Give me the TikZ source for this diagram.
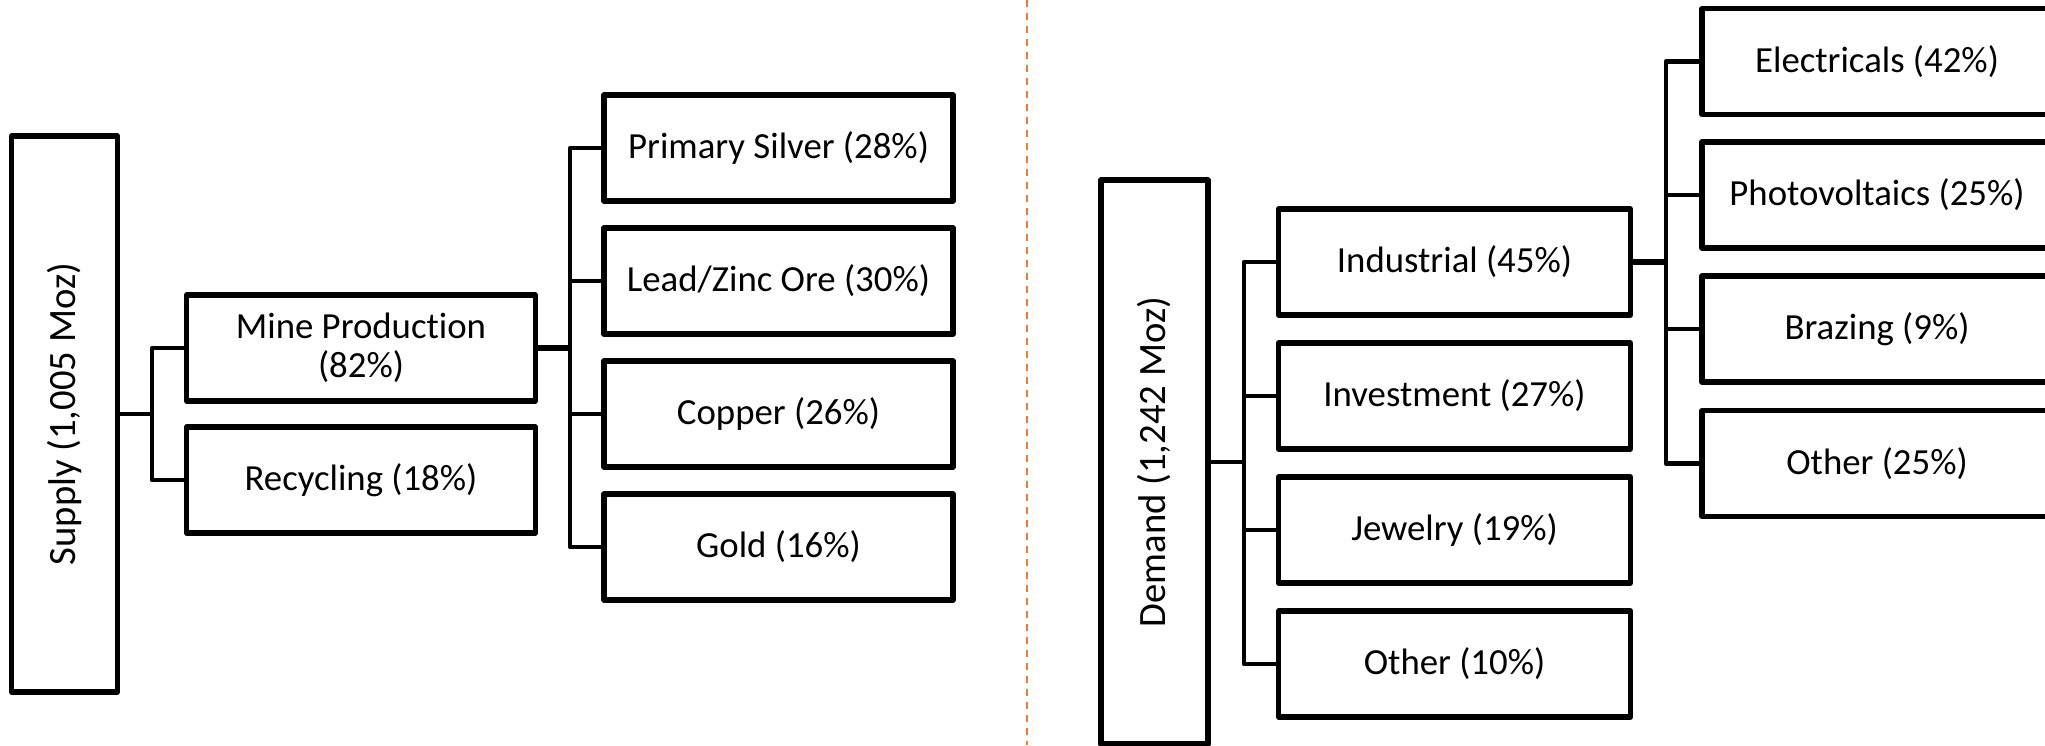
\documentclass[tikz,border=0pt]{standalone}
\usepackage{fontspec}
\setmainfont{Carlito}[Ligatures=NoCommon]
\usepackage{tikz}
\usetikzlibrary{positioning}
\definecolor{offorange}{RGB}{237,125,49}

\begin{document}
\begin{tikzpicture}[x=1cm,y=1cm,
	bx/.style={draw,rectangle,line width=1.45pt,line join=round,minimum width=3.49cm,
		minimum height=1.06cm,inner sep=0pt,align=center,font=\fontsize{10.47}{11.1}\selectfont},
	tall/.style={bx,rotate=90,minimum height=1.06cm,font=\fontsize{11}{12}\selectfont},
	lnk/.style={line width=1.35pt,line join=round},
	trunk/.style={line width=1.7pt}]
	\useasboundingbox (0,0) rectangle (20.45,-7.45);
	% supply side
	\node[tall,minimum width=5.56cm] (sup) at (0.645,-4.14) {Supply (1,005 Moz)};
	\node[bx] (mine) at (3.61,-3.48) {Mine Production\\(82\%)};
	\node[bx] (rec) at (3.61,-4.80) {Recycling (18\%)};
	\node[bx] (ps) at (7.785,-1.48) {Primary Silver (28\%)};
	\node[bx] (lz) at (7.785,-2.81) {Lead/Zinc Ore (30\%)};
	\node[bx] (cu) at (7.785,-4.14) {Copper (26\%)};
	\node[bx] (au) at (7.785,-5.47) {Gold (16\%)};
	\coordinate (j1) at (1.52,-4.14);
	\coordinate (j2) at (5.70,-3.48);
	\draw[lnk] (sup.south) -- (j1);
	\draw[lnk] (mine.west) -| (j1);
	\draw[lnk] (rec.west) -| (j1);
	\draw[lnk,trunk] (mine.east) -- (j2);
	\draw[lnk] (ps.west) -| (j2);
	\draw[lnk] (lz.west) -| (j2);
	\draw[lnk] (cu.west) -| (j2);
	\draw[lnk] (au.west) -| (j2);
	% divider
	\draw[offorange,line width=0.7pt,dash pattern=on 0.075cm off 0.055cm] (10.27,0) -- (10.27,-7.45);
	% demand side
	\node[tall,minimum width=5.64cm,minimum height=1.07cm] (dem) at (11.545,-4.62) {Demand (1,242 Moz)};
	\node[bx,minimum width=3.52cm] (ind) at (14.545,-2.62) {Industrial (45\%)};
	\node[bx,minimum width=3.52cm] (inv) at (14.545,-3.96) {Investment (27\%)};
	\node[bx,minimum width=3.52cm] (jew) at (14.545,-5.30) {Jewelry (19\%)};
	\node[bx,minimum width=3.52cm] (oth) at (14.545,-6.64) {Other (10\%)};
	\node[bx,minimum width=3.5cm] (el) at (18.77,-0.615) {Electricals (42\%)};
	\node[bx,minimum width=3.5cm] (pv) at (18.77,-1.95) {Photovoltaics (25\%)};
	\node[bx,minimum width=3.5cm] (br) at (18.77,-3.29) {Brazing (9\%)};
	\node[bx,minimum width=3.5cm] (ot) at (18.77,-4.635) {Other (25\%)};
	\coordinate (j3) at (12.44,-4.62);
	\coordinate (j4) at (16.66,-2.62);
	\draw[lnk] (dem.south) -- (j3);
	\draw[lnk] (ind.west) -| (j3);
	\draw[lnk] (inv.west) -| (j3);
	\draw[lnk] (jew.west) -| (j3);
	\draw[lnk] (oth.west) -| (j3);
	\draw[lnk,trunk] (ind.east) -- (j4);
	\draw[lnk] (el.west) -| (j4);
	\draw[lnk] (pv.west) -| (j4);
	\draw[lnk] (br.west) -| (j4);
	\draw[lnk] (ot.west) -| (j4);
\end{tikzpicture}
\end{document}
